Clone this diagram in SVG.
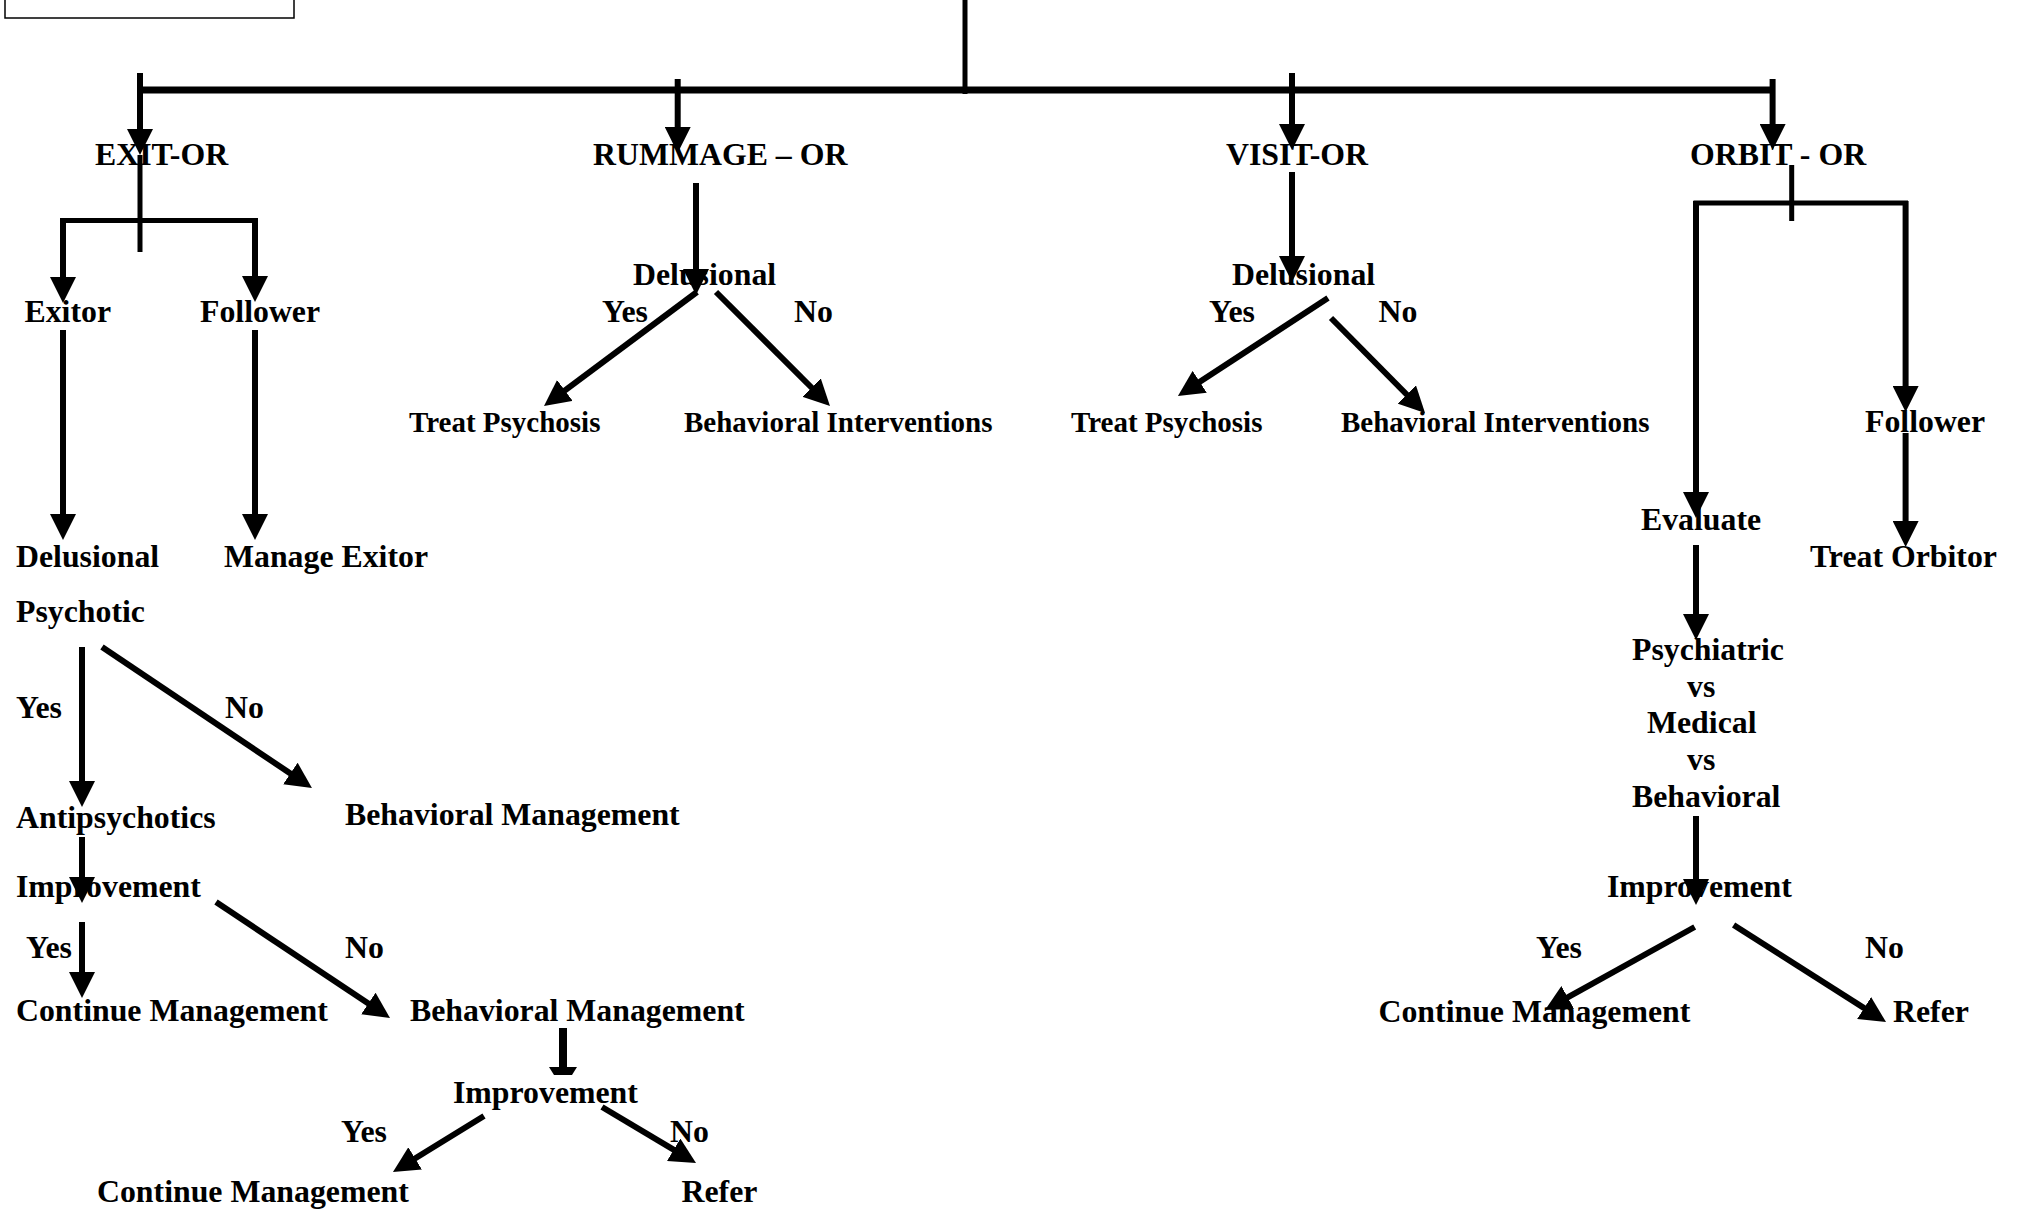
<svg xmlns="http://www.w3.org/2000/svg" width="2018" height="1212" viewBox="0 0 2018 1212">
<style>
text{font-family:"Liberation Serif","Times New Roman",serif;font-weight:bold;font-size:31.8px;fill:#000}
text.s{font-size:29px}
.c{stroke:#000;stroke-width:6;fill:none;marker-end:url(#ah)}
.b{stroke:#000;stroke-width:5;fill:none}
</style>
<defs>
<marker id="ah" markerUnits="userSpaceOnUse" viewBox="0 0 26 26" markerWidth="26" markerHeight="26" refX="14" refY="13" orient="auto">
<path d="M0,0 L26,13 L0,26 z" fill="#000"/>
</marker>
</defs>
<rect x="5" y="-10" width="289" height="28" fill="none" stroke="#000" stroke-width="1.5"/>
<g id="connectors">
<line x1="965" y1="0" x2="965" y2="94" class="b"/>
<line x1="137" y1="90" x2="1775" y2="90" stroke="#000" stroke-width="7"/>
<line x1="140" y1="73" x2="140" y2="143" class="c"/>
<line x1="140" y1="155" x2="140" y2="252" class="b" stroke-width="6"/>
<line x1="677.7" y1="79" x2="677.7" y2="141" class="c"/>
<line x1="1292" y1="73" x2="1292" y2="138" class="c"/>
<line x1="1772.6" y1="79" x2="1772.6" y2="138" class="c"/>
<path d="M61 220.5 H257" class="b"/>
<line x1="63" y1="218" x2="63" y2="291" class="c"/>
<line x1="255" y1="218" x2="255" y2="290" class="c"/>
<line x1="63" y1="330" x2="63" y2="528" class="c"/>
<line x1="255" y1="330" x2="255" y2="528" class="c"/>
<line x1="82" y1="647" x2="82" y2="795" class="c"/>
<line x1="102" y1="647" x2="302" y2="781.3" class="c"/>
<line x1="82" y1="837" x2="82" y2="891" class="c"/>
<line x1="82" y1="922" x2="82" y2="986" class="c"/>
<line x1="216" y1="902" x2="380" y2="1011.3" class="c"/>
<line x1="563" y1="1028" x2="563" y2="1068" stroke="#000" stroke-width="8"/>
<polygon points="549,1067 577,1067 572,1075 554,1075" fill="#000"/>
<line x1="484" y1="1116" x2="403.2" y2="1165.7" class="c"/>
<line x1="602" y1="1107" x2="685.7" y2="1156.9" class="c"/>
<line x1="696" y1="183" x2="696" y2="283" class="c"/>
<line x1="697" y1="292" x2="553.6" y2="398.8" class="c"/>
<line x1="716" y1="292" x2="821.5" y2="397.5" class="c"/>
<line x1="1292" y1="172" x2="1292" y2="270" class="c"/>
<line x1="1328" y1="298" x2="1188" y2="389.4" class="c"/>
<line x1="1331" y1="318" x2="1416.6" y2="404.5" class="c"/>
<line x1="1791.7" y1="165" x2="1791.7" y2="221" class="b"/>
<path d="M1693.5 203 H1908" class="b"/>
<line x1="1696" y1="201" x2="1696" y2="506" class="c"/>
<line x1="1905.6" y1="201" x2="1905.6" y2="400" class="c"/>
<line x1="1905.6" y1="433" x2="1905.6" y2="535" class="c"/>
<line x1="1696" y1="545" x2="1696" y2="628" class="c"/>
<line x1="1696" y1="816" x2="1696" y2="893" class="c"/>
<line x1="1694.7" y1="927" x2="1555.5" y2="1004.2" class="c"/>
<line x1="1733.6" y1="925" x2="1875.9" y2="1015.6" class="c"/>
</g>
<g id="exit-or"><text x="95" y="165">EXIT-OR</text></g>
<g id="rummage-or"><text x="593" y="165">RUMMAGE – OR</text></g>
<g id="visit-or"><text x="1226" y="165">VISIT-OR</text></g>
<g id="orbit-or"><text x="1690" y="165">ORBIT - OR</text></g>
<g id="exitor"><text x="24.5" y="322">Exitor</text></g>
<g id="follower-exit"><text x="200" y="322">Follower</text></g>
<g id="delusional-rummage"><text x="633" y="285">Delusional</text></g>
<g id="yes-rummage"><text x="602" y="322">Yes</text></g>
<g id="no-rummage"><text x="794" y="322">No</text></g>
<g id="delusional-visit"><text x="1232" y="285">Delusional</text></g>
<g id="yes-visit"><text x="1209" y="322">Yes</text></g>
<g id="no-visit"><text x="1378.5" y="322">No</text></g>
<g id="treat-psychosis-rummage"><text class="s" x="409" y="432">Treat Psychosis</text></g>
<g id="behavioral-interventions-rummage"><text class="s" x="684" y="432">Behavioral Interventions</text></g>
<g id="treat-psychosis-visit"><text class="s" x="1071" y="432">Treat Psychosis</text></g>
<g id="behavioral-interventions-visit"><text class="s" x="1341" y="432">Behavioral Interventions</text></g>
<g id="follower-orbit"><text x="1865" y="432">Follower</text></g>
<g id="evaluate"><text x="1641" y="530">Evaluate</text></g>
<g id="treat-orbitor"><text x="1810" y="567">Treat Orbitor</text></g>
<g id="delusional-psychotic"><text x="16" y="567">Delusional</text><text x="16" y="622">Psychotic</text></g>
<g id="manage-exitor"><text x="224" y="567">Manage Exitor</text></g>
<g id="yes-psychotic"><text x="16" y="718">Yes</text></g>
<g id="no-psychotic"><text x="225" y="718">No</text></g>
<g id="antipsychotics"><text x="16" y="828">Antipsychotics</text></g>
<g id="behavioral-management-1"><text x="345" y="825">Behavioral Management</text></g>
<g id="improvement-1"><text x="16" y="897">Improvement</text></g>
<g id="yes-improvement-1"><text x="26" y="958">Yes</text></g>
<g id="no-improvement-1"><text x="345" y="958">No</text></g>
<g id="continue-management-1"><text x="16" y="1021">Continue Management</text></g>
<g id="behavioral-management-2"><text x="410" y="1021">Behavioral Management</text></g>
<g id="improvement-2"><text x="453" y="1103">Improvement</text></g>
<g id="yes-improvement-2"><text x="341" y="1142">Yes</text></g>
<g id="no-improvement-2"><text x="670" y="1142">No</text></g>
<g id="continue-management-2"><text x="97" y="1202">Continue Management</text></g>
<g id="refer-1"><text x="681.5" y="1202">Refer</text></g>
<g id="psych-med-behav"><text x="1632" y="660">Psychiatric</text><text x="1687" y="697">vs</text><text x="1647" y="733">Medical</text><text x="1687" y="770">vs</text><text x="1632" y="807">Behavioral</text></g>
<g id="improvement-orbit"><text x="1607" y="897">Improvement</text></g>
<g id="yes-orbit"><text x="1536" y="958">Yes</text></g>
<g id="no-orbit"><text x="1865" y="958">No</text></g>
<g id="continue-management-orbit"><text x="1378.5" y="1022">Continue Management</text></g>
<g id="refer-orbit"><text x="1893" y="1022">Refer</text></g>
</svg>
